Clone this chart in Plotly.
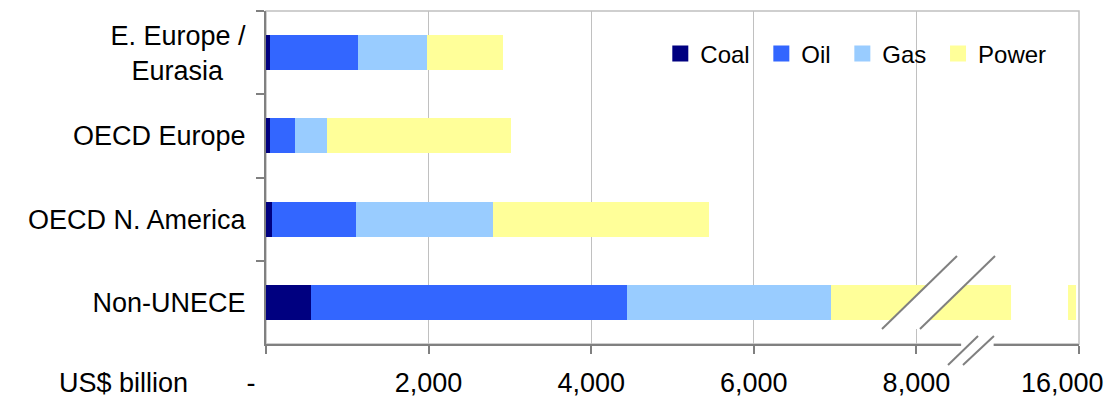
import plotly.graph_objects as go

# Regions, listed top to bottom
regions = ["E. Europe /<br>Eurasia\u00a0\u00a0\u00a0", "OECD Europe", "OECD N. America", "Non-UNECE"]

# Investment by fuel, US$ billion
coal = [50, 45, 74, 554]
oil = [1083, 312, 1035, 3890]
gas = [850, 394, 1688, 2505]
power = [937, 2267, 2648, 9010]

series_names = ["Coal", "Oil", "Gas", "Power"]
series_colors = ["#000080", "#3366FF", "#99CCFF", "#FFFF99"]

tick_values = [0, 2000, 4000, 6000, 8000, 10000]
tick_labels = ["-\u00a0\u00a0\u00a0\u00a0", "2,000", "4,000", "6,000", "8,000", ""]
END_LABEL = "16,000"   # value at the far end of the broken axis

# Broken x axis: true values between BREAK_LO and BREAK_HI are squeezed into
# the gap drawn on the axis; values above BREAK_HI are shifted left.
BREAK_LO, BREAK_HI = 8550, 14950
GAP_LO, GAP_HI = 8550, 8950


def to_axis(v):
    if v <= BREAK_LO:
        return v
    if v >= BREAK_HI:
        return v - (BREAK_HI - GAP_HI)
    return GAP_LO + (v - BREAK_LO) * (GAP_HI - GAP_LO) / (BREAK_HI - BREAK_LO)


FONT = "Liberation Sans, Arial, sans-serif"
fig = go.Figure()

all_series = [coal, oil, gas, power]
cum = [0.0] * len(regions)
for name, color, vals in zip(series_names, series_colors, all_series):
    lengths = []
    for i, v in enumerate(vals):
        start, end = cum[i], cum[i] + v
        lengths.append(to_axis(end) - to_axis(start))
        cum[i] = end
    fig.add_trace(go.Bar(
        y=regions, x=lengths, orientation="h", name=name,
        marker=dict(color=color, line=dict(width=0)),
        showlegend=False, hoverinfo="skip",
    ))

# Legend entries with square swatches (a trailing space widens each entry)
for name, color in zip(series_names, series_colors):
    fig.add_trace(go.Scatter(
        x=[None], y=[None], mode="markers", name=name + "\u00a0",
        marker=dict(symbol="square", size=16, color=color, line=dict(width=0)),
    ))

GRAY = "#808080"
LIGHT = "#c0c0c0"

shapes = [
    # plot-area frame (top and right edges)
    dict(type="rect", xref="paper", yref="paper", x0=0, x1=1, y0=0, y1=1,
         line=dict(color=LIGHT, width=1.5), layer="below"),
    # white cut through the long bar, between the slanted break marks
    dict(type="path", xref="x", yref="paper",
         path="M7577,0.045 L8499,0.264 L8967,0.264 L8044,0.045 Z",
         fillcolor="white", line=dict(width=0), layer="above"),
    dict(type="rect", xref="x", yref="paper", x0=9164, x1=9865, y0=0.05, y1=0.2,
         fillcolor="white", line=dict(width=0), layer="above"),
    # break marks across the bar
    dict(type="line", xref="x", yref="paper", x0=7577, y0=0.045, x1=8499, y1=0.264,
         line=dict(color=GRAY, width=2), layer="above"),
    dict(type="line", xref="x", yref="paper", x0=8044, y0=0.045, x1=8967, y1=0.264,
         line=dict(color=GRAY, width=2), layer="above"),
    # gap in the x axis line and its break marks
    dict(type="rect", xref="x", yref="paper", x0=GAP_LO, x1=GAP_HI, y0=-0.012, y1=0.012,
         fillcolor="white", line=dict(width=0), layer="above"),
    dict(type="line", xref="x", yref="paper", x0=8389, y0=-0.063, x1=8758, y1=0.024,
         line=dict(color=GRAY, width=2), layer="above"),
    dict(type="line", xref="x", yref="paper", x0=8573, y0=-0.063, x1=8954, y1=0.024,
         line=dict(color=GRAY, width=2), layer="above"),
]

fig.update_layout(
    width=1113, height=399, autosize=False,
    margin=dict(l=266, r=34, t=11, b=55, pad=0),
    paper_bgcolor="white", plot_bgcolor="white",
    barmode="stack", bargap=0.58,
    font=dict(family=FONT, size=27, color="black"),
    shapes=shapes,
    legend=dict(orientation="h", x=0.485, y=0.939, xanchor="left", yanchor="top",
                traceorder="normal",
                bgcolor="rgba(0,0,0,0)", font=dict(size=24), itemwidth=30),
    annotations=[
        dict(text="US$ billion", xref="paper", yref="paper",
             x=-0.094, y=-0.117, xanchor="right", yanchor="middle",
             showarrow=False, font=dict(size=27)),
        dict(text=END_LABEL, xref="paper", yref="paper",
             x=1.033, y=-0.117, xanchor="right", yanchor="middle",
             showarrow=False, font=dict(size=27)),
    ],
)

fig.update_xaxes(
    range=[0, 10000], tickvals=tick_values, ticktext=tick_labels,
    showgrid=True, gridcolor=LIGHT, gridwidth=1,
    showline=True, linecolor=GRAY, linewidth=2,
    ticks="outside", ticklen=8, tickcolor=GRAY, tickwidth=1.5,
    ticklabelstandoff=6, ticklabeloverflow="allow",
    zeroline=False, fixedrange=True, automargin=False,
)
fig.update_yaxes(
    type="category", categoryorder="array", categoryarray=regions,
    range=[3.5, -0.5], showgrid=False,
    showline=True, linecolor=GRAY, linewidth=2,
    ticks="outside", tickson="boundaries", ticklen=8, tickcolor=GRAY, tickwidth=1.5,
    ticklabelstandoff=13, zeroline=False, fixedrange=True, automargin=False,
)

fig.write_html("out.html")
